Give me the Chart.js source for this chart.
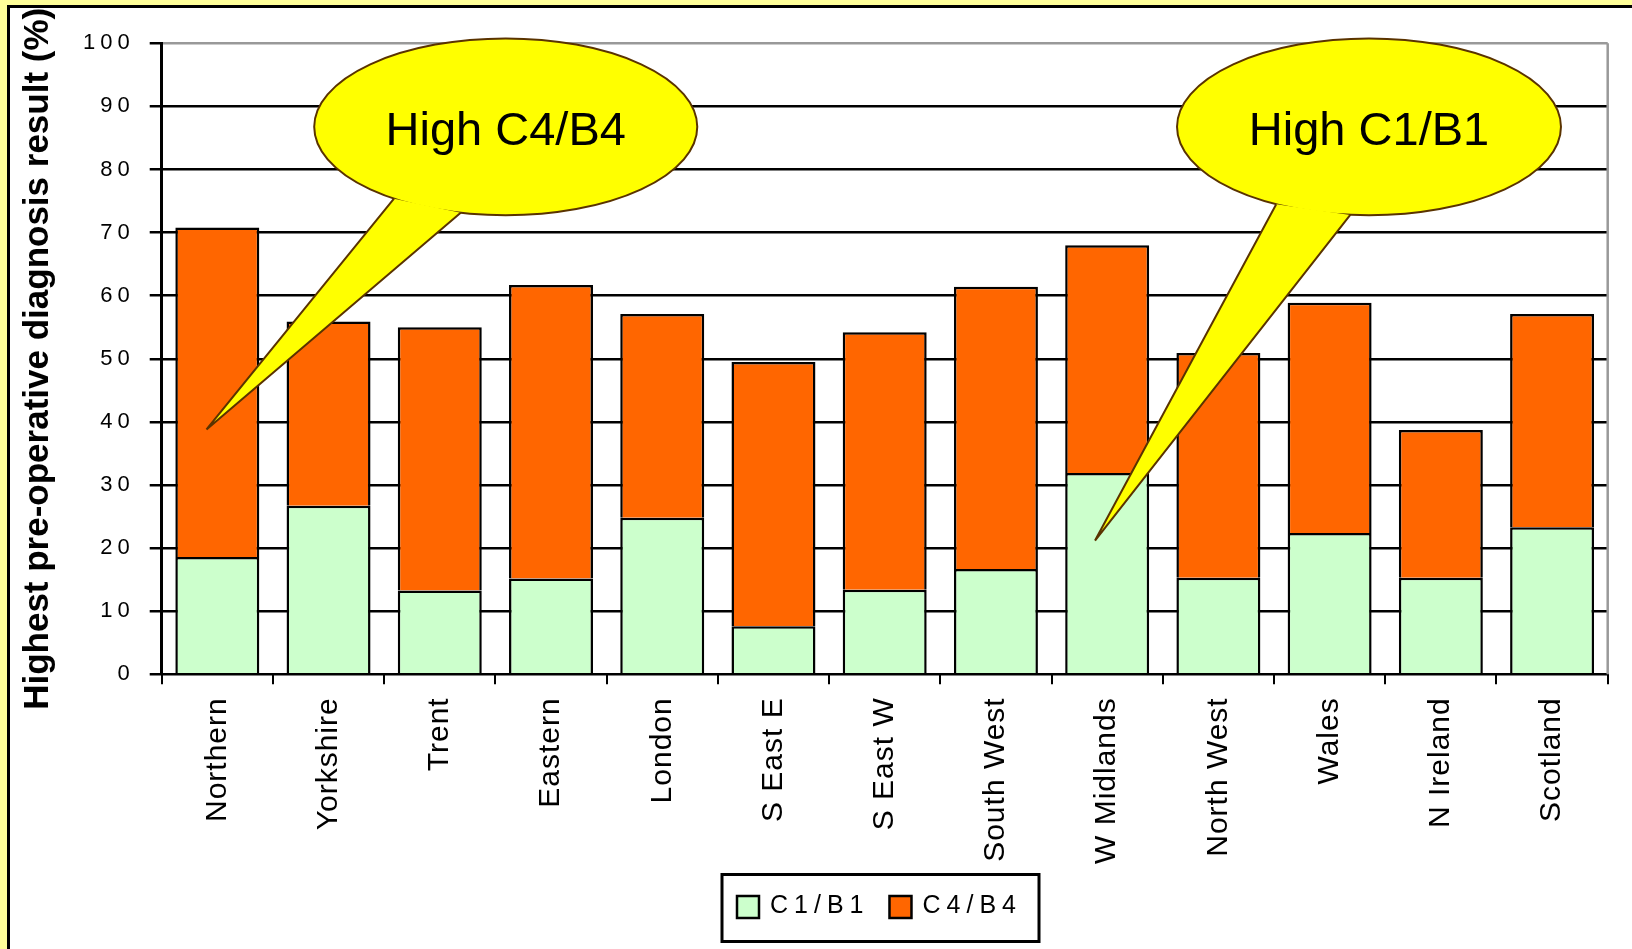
<!DOCTYPE html>
<html>
<head>
<meta charset="utf-8">
<title>Highest pre-operative diagnosis result by region</title>
<script src="https://cdn.jsdelivr.net/npm/chart.js@4.4.1/dist/chart.umd.min.js"></script>
<style>
  html, body { margin: 0; padding: 0; }
  body {
    width: 1632px; height: 949px; overflow: hidden; position: relative;
    background: #ffff99;
  }
  #frame {
    position: absolute; left: 7px; top: 5px; width: 1640px; height: 960px;
    background: #fff; border-left: 3px solid #000; border-top: 3px solid #000;
  }
  #wrap { position: absolute; left: 0; top: 0; width: 1632px; height: 949px; }
</style>
</head>
<body>
<div id="frame"></div>
<div id="wrap"><canvas id="chart" width="1632" height="949"></canvas></div>
<script>
const regions = ["Northern", "Yorkshire", "Trent", "Eastern", "London", "S East E", "S East W",
  "South West", "W Midlands", "North West", "Wales", "N Ireland", "Scotland"];
const c1b1 = [18.6, 26.7, 13.3, 15.2, 24.8, 7.6, 13.4, 16.7, 31.9, 15.3, 22.4, 15.3, 23.3];
const c4b4 = [52.2, 29.2, 41.7, 46.5, 32.3, 41.9, 40.8, 44.7, 36.1, 35.6, 36.5, 23.4, 33.8];
const yTicks = [0, 10, 20, 30, 40, 50, 60, 70, 80, 90, 100];

// speech bubbles, placed in axis units (category index / percent)
const callouts = [
  { text: "High C4/B4", x: 2.593, y: 86.76, rx: 1.722, ry: 14.02, tipX: -0.097, tipY: 38.8, angA: 125.7, angB: 103.6 },
  { text: "High C1/B1", x: 10.354, y: 86.76, rx: 1.726, ry: 14.02, tipX: 7.891, tipY: 21.2, angA: 118.9, angB: 95.6 },
];

const FONT = '"Liberation Sans", Arial, sans-serif';
Chart.defaults.font.family = FONT;
Chart.defaults.color = "#000";

// letter spacing on axis labels (old Excel look)
const spacing = { x: "1px", y: "5px" };
const spacedLabels = {
  id: "spacedLabels",
  beforeDraw(chart) {
    Object.keys(spacing).forEach((id) => {
      const s = chart.scales[id];
      if (!s || s._spaced) return;
      const orig = s.drawLabels.bind(s);
      s.drawLabels = (area) => {
        chart.ctx.save();
        chart.ctx.letterSpacing = spacing[id];
        orig(area);
        chart.ctx.restore();
      };
      s._spaced = true;
    });
  },
};

const plotFrame = {
  id: "plotFrame",
  beforeDatasetsDraw(chart) {
    const { ctx, chartArea: a } = chart;
    ctx.save();
    ctx.strokeStyle = "#999";
    ctx.lineWidth = 2.5;
    ctx.beginPath();
    ctx.moveTo(a.right, a.top);
    ctx.lineTo(a.right, a.bottom);
    ctx.stroke();
    ctx.restore();
  },
};

const bubbles = {
  id: "bubbles",
  afterDraw(chart) {
    const { ctx } = chart;
    const xs = chart.scales.x, ys = chart.scales.y;
    callouts.forEach((c) => {
      const cx = xs.getPixelForValue(c.x), cy = ys.getPixelForValue(c.y);
      const rx = xs.getPixelForValue(c.x + c.rx) - cx;
      const ry = ys.getPixelForValue(c.y - c.ry) - cy;
      const tx = xs.getPixelForValue(c.tipX), ty = ys.getPixelForValue(c.tipY);
      const a1 = (c.angA * Math.PI) / 180, a2 = (c.angB * Math.PI) / 180;
      const ax = cx + rx * Math.cos(a1), ay = cy + ry * Math.sin(a1);
      const bx = cx + rx * Math.cos(a2), by = cy + ry * Math.sin(a2);

      ctx.save();
      ctx.fillStyle = "#ffff00";
      ctx.strokeStyle = "#5a3300";
      ctx.lineWidth = 2;
      ctx.beginPath();
      ctx.ellipse(cx, cy, rx, ry, 0, 0, Math.PI * 2);
      ctx.fill();
      ctx.stroke();
      ctx.beginPath();
      ctx.moveTo(ax, ay);
      ctx.lineTo(tx, ty);
      ctx.lineTo(bx, by);
      ctx.closePath();
      ctx.fill();
      ctx.beginPath();
      ctx.moveTo(ax, ay);
      ctx.lineTo(tx, ty);
      ctx.lineTo(bx, by);
      ctx.stroke();

      ctx.fillStyle = "#000";
      ctx.font = "47px " + FONT;
      ctx.textAlign = "center";
      ctx.textBaseline = "alphabetic";
      ctx.fillText(c.text, cx, cy + 18);
      ctx.restore();
    });
  },
};

// boxed legend under the axis labels
const boxLegend = {
  id: "boxLegend",
  afterDraw(chart) {
    const { ctx } = chart;
    const box = { left: 722, top: 874.5, width: 317, height: 67 };
    ctx.save();
    ctx.strokeStyle = "#000";
    ctx.lineWidth = 3;
    ctx.strokeRect(box.left, box.top, box.width, box.height);
    ctx.font = "25px " + FONT;
    ctx.letterSpacing = "6px";
    ctx.textBaseline = "alphabetic";
    ctx.textAlign = "left";
    let x = box.left + 15;
    chart.data.datasets.forEach((ds) => {
      ctx.fillStyle = ds.backgroundColor;
      ctx.fillRect(x, 896, 22, 22);
      ctx.lineWidth = 2.5;
      ctx.strokeRect(x, 896, 22, 22);
      ctx.fillStyle = "#000";
      ctx.fillText(ds.label, x + 33, 913);
      x += 33 + ctx.measureText(ds.label).width + 20;
    });
    ctx.restore();
  },
};

new Chart(document.getElementById("chart"), {
  type: "bar",
  data: {
    labels: regions,
    datasets: [
      {
        label: "C1/B1",
        data: c1b1,
        backgroundColor: "#ccffcc",
        borderColor: "#000",
        borderWidth: 2.5,
        barPercentage: 0.755,
        categoryPercentage: 1,
      },
      {
        label: "C4/B4",
        data: c4b4,
        backgroundColor: "#ff6600",
        borderColor: "#000",
        borderWidth: 2.5,
        barPercentage: 0.755,
        categoryPercentage: 1,
      },
    ],
  },
  options: {
    responsive: false,
    devicePixelRatio: 1,
    animation: false,
    layout: { padding: { top: 43.3, right: 24.3, left: 0, bottom: 0 } },
    plugins: {
      legend: { display: false },
      tooltip: { enabled: false },
    },
    scales: {
      x: {
        stacked: true,
        offset: true,
        grid: { offset: true, drawOnChartArea: false, drawTicks: true, tickLength: 10, color: "#000", lineWidth: 2 },
        border: { color: "#000", width: 2 },
        ticks: { font: { size: 30 }, color: "#000", maxRotation: 90, minRotation: 90, padding: 13, autoSkip: false },
        afterFit: (s) => { s.height = 949 - 674.3; },
      },
      y: {
        stacked: true,
        min: 0,
        max: 100,
        afterBuildTicks: (s) => { s.ticks = yTicks.map((v) => ({ value: v })); },
        ticks: { font: { size: 22 }, color: "#000", padding: 15 },
        grid: {
          color: (c) => (c.tick && c.tick.value === 100 ? "#999" : "#000"),
          lineWidth: 2.5,
          tickLength: 12,
          tickColor: "#000",
          tickWidth: 2.5,
        },
        border: { color: "#000", width: 3 },
        title: {
          display: true,
          text: "Highest pre-operative diagnosis result (%)",
          font: { size: 35, weight: "bold" },
          color: "#000",
          padding: { top: 17, bottom: 0 },
        },
        afterFit: (s) => { s.width = 161.7; },
      },
    },
  },
  plugins: [spacedLabels, plotFrame, bubbles, boxLegend],
});
</script>
</body>
</html>
